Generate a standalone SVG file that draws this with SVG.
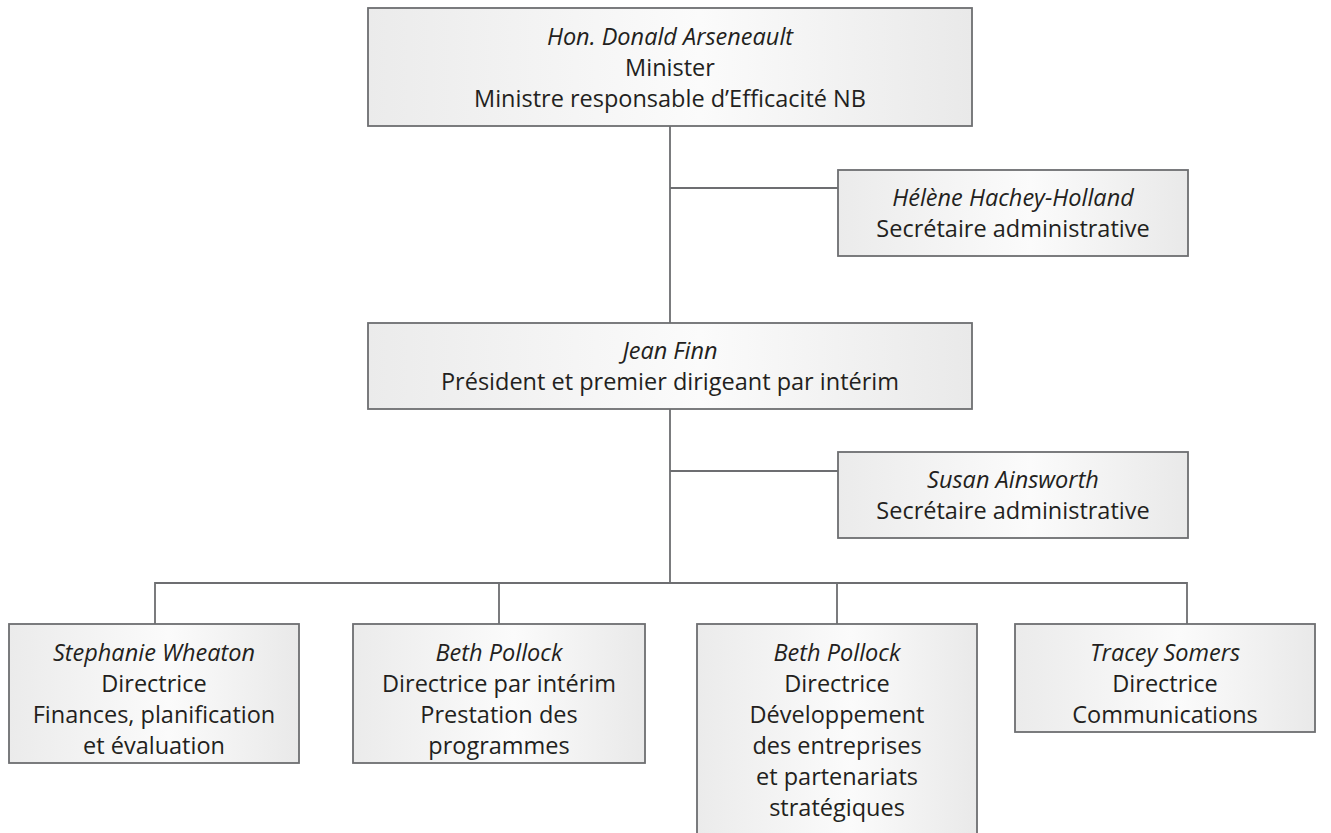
<svg xmlns="http://www.w3.org/2000/svg" width="1331" height="833" viewBox="0 0 1331 833">
<defs>
<linearGradient id="g" x1="0" y1="0" x2="1" y2="0">
<stop offset="0" stop-color="#ebebeb"/>
<stop offset="0.55" stop-color="#fbfbfb"/>
<stop offset="1" stop-color="#e9e9e9"/>
</linearGradient>
</defs>
<style>
.box{fill:url(#g);stroke:#6d6e71;stroke-width:1.8}
.ln{fill:none;stroke:#6d6e71;stroke-width:1.8}
text{font-family:"Open Sans","Noto Sans",sans-serif;font-size:23.5px;fill:#231f20;text-anchor:middle}
.i{font-style:italic}
</style>
<g id="connectors">
<path class="ln" d="M670 126 V323 M670 188 H838 M670 409 V583 M670 471 H838 M155 624 V583 H1187 V624 M499 583 V624 M837 583 V624"/>
</g>
<g id="minister">
<rect class="box" x="368" y="8" width="604" height="118"/>
<text x="670" y="45" class="i">Hon. Donald Arseneault</text>
<text x="670" y="76">Minister</text>
<text x="670" y="107">Ministre responsable d’Efficacité NB</text>
</g>
<g id="helene">
<rect class="box" x="838" y="170" width="350" height="86"/>
<text x="1013" y="206" class="i">Hélène Hachey-Holland</text>
<text x="1013" y="237">Secrétaire administrative</text>
</g>
<g id="jean">
<rect class="box" x="368" y="323" width="604" height="86"/>
<text x="670" y="359" class="i">Jean Finn</text>
<text x="670" y="390">Président et premier dirigeant par intérim</text>
</g>
<g id="susan">
<rect class="box" x="838" y="452" width="350" height="86"/>
<text x="1013" y="488" class="i">Susan Ainsworth</text>
<text x="1013" y="519">Secrétaire administrative</text>
</g>
<g id="stephanie">
<rect class="box" x="9" y="624" width="290" height="139"/>
<text x="154" y="661" class="i">Stephanie Wheaton</text>
<text x="154" y="692">Directrice</text>
<text x="154" y="723">Finances, planification</text>
<text x="154" y="754">et évaluation</text>
</g>
<g id="beth1">
<rect class="box" x="353" y="624" width="292" height="139"/>
<text x="499" y="661" class="i">Beth Pollock</text>
<text x="499" y="692">Directrice par intérim</text>
<text x="499" y="723">Prestation des</text>
<text x="499" y="754">programmes</text>
</g>
<g id="beth2">
<rect class="box" x="697" y="624" width="280" height="220"/>
<text x="837" y="661" class="i">Beth Pollock</text>
<text x="837" y="692">Directrice</text>
<text x="837" y="723">Développement</text>
<text x="837" y="754">des entreprises</text>
<text x="837" y="785">et partenariats</text>
<text x="837" y="816">stratégiques</text>
</g>
<g id="tracey">
<rect class="box" x="1015" y="624" width="300" height="108"/>
<text x="1165" y="661" class="i">Tracey Somers</text>
<text x="1165" y="692">Directrice</text>
<text x="1165" y="723">Communications</text>
</g>
</svg>
